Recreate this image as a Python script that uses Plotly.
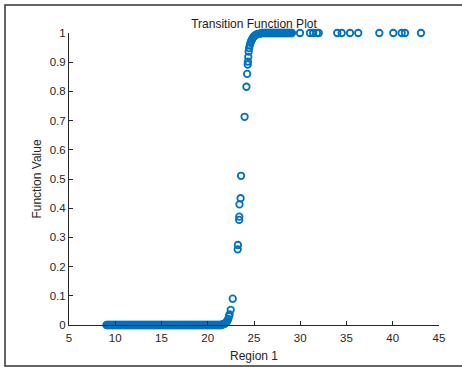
import plotly.graph_objects as go

# Region 1 values (x) and transition function values (y)
region1 = [
    9.05, 9.16, 9.27, 9.38, 9.49, 9.60, 9.71, 9.82, 9.93, 10.04, 10.15, 10.26, 10.37,
    10.48, 10.59, 10.70, 10.81, 10.92, 11.03, 11.14, 11.25, 11.36, 11.47, 11.58, 11.69,
    11.80, 11.91, 12.02, 12.13, 12.24, 12.35, 12.46, 12.57, 12.68, 12.79, 12.90, 13.01,
    13.12, 13.23, 13.34, 13.45, 13.56, 13.67, 13.78, 13.89, 14.00, 14.11, 14.22, 14.33,
    14.44, 14.55, 14.66, 14.77, 14.88, 14.99, 15.10, 15.21, 15.32, 15.43, 15.54, 15.65,
    15.76, 15.87, 15.98, 16.09, 16.20, 16.31, 16.42, 16.53, 16.64, 16.75, 16.86, 16.97,
    17.08, 17.19, 17.30, 17.41, 17.52, 17.63, 17.74, 17.85, 17.96, 18.07, 18.18, 18.29,
    18.40, 18.51, 18.62, 18.73, 18.84, 18.95, 19.06, 19.17, 19.28, 19.39, 19.50, 19.61,
    19.72, 19.83, 19.94, 20.05, 20.16, 20.27, 20.38, 20.49, 20.60, 20.71, 20.82, 20.93,
    21.04, 21.15, 21.26, 21.36, 21.45,
    21.55, 21.62, 21.70, 21.78, 21.85, 21.92, 22.00, 22.07, 22.14, 22.22, 22.30, 22.36,
    22.48, 22.70, 23.24, 23.26, 23.40, 23.41, 23.43, 23.55, 23.60, 23.98, 24.18, 24.26,
    24.32, 24.34, 24.38, 24.42, 24.47, 24.55, 24.62, 24.70, 24.78, 24.87, 24.96, 25.06,
    25.16, 25.27, 25.38, 25.50, 25.62, 25.74,
    25.86, 25.97, 26.09, 26.21, 26.32, 26.44, 26.55, 26.67, 26.79, 26.90, 27.02, 27.13,
    27.25, 27.37, 27.48, 27.60, 27.71, 27.83, 27.95, 28.06, 28.18, 28.29, 28.41, 28.53,
    28.64, 28.76, 28.87, 28.99, 29.10,
    29.97, 31.05, 31.40, 31.80, 32.00, 34.00, 34.48, 35.38, 36.27, 38.55, 40.06, 40.96,
    41.32, 43.05,
]

function_value = [
    0.000, 0.000, 0.000, 0.000, 0.000, 0.000, 0.000, 0.000, 0.000, 0.000, 0.000, 0.000, 0.000,
    0.000, 0.000, 0.000, 0.000, 0.000, 0.000, 0.000, 0.000, 0.000, 0.000, 0.000, 0.000,
    0.000, 0.000, 0.000, 0.000, 0.000, 0.000, 0.000, 0.000, 0.000, 0.000, 0.000, 0.000,
    0.000, 0.000, 0.000, 0.000, 0.000, 0.000, 0.000, 0.000, 0.000, 0.000, 0.000, 0.000,
    0.000, 0.000, 0.000, 0.000, 0.000, 0.000, 0.000, 0.000, 0.000, 0.000, 0.000, 0.000,
    0.000, 0.000, 0.000, 0.000, 0.000, 0.000, 0.000, 0.000, 0.000, 0.000, 0.000, 0.000,
    0.000, 0.000, 0.000, 0.000, 0.000, 0.000, 0.000, 0.000, 0.000, 0.000, 0.000, 0.000,
    0.000, 0.000, 0.000, 0.000, 0.000, 0.000, 0.000, 0.000, 0.000, 0.000, 0.000, 0.000,
    0.000, 0.000, 0.000, 0.000, 0.000, 0.000, 0.000, 0.000, 0.000, 0.000, 0.000, 0.000,
    0.000, 0.000, 0.000, 0.000, 0.000,
    0.001, 0.002, 0.003, 0.004, 0.005, 0.007, 0.009, 0.012, 0.016, 0.021, 0.030, 0.036,
    0.052, 0.090, 0.259, 0.274, 0.360, 0.371, 0.413, 0.434, 0.511, 0.713, 0.816, 0.860,
    0.892, 0.902, 0.918, 0.936, 0.948, 0.958, 0.966, 0.973, 0.978, 0.983, 0.987, 0.990,
    0.993, 0.995, 0.996, 0.997, 0.998, 0.999,
    1.000, 1.000, 1.000, 1.000, 1.000, 1.000, 1.000, 1.000, 1.000, 1.000, 1.000, 1.000,
    1.000, 1.000, 1.000, 1.000, 1.000, 1.000, 1.000, 1.000, 1.000, 1.000, 1.000, 1.000,
    1.000, 1.000, 1.000, 1.000, 1.000,
    1.000, 1.000, 1.000, 1.000, 1.000, 1.000, 1.000, 1.000, 1.000, 1.000, 1.000, 1.000,
    1.000, 1.000,
]

x_ticks = [5, 10, 15, 20, 25, 30, 35, 40, 45]
y_ticks = [0, 0.1, 0.2, 0.3, 0.4, 0.5, 0.6, 0.7, 0.8, 0.9, 1]
y_tick_labels = ["0", "0.1", "0.2", "0.3", "0.4", "0.5", "0.6", "0.7", "0.8", "0.9", "1"]

W, H = 462, 367
L, R, T, B = 69, 23, 33, 42
pw, ph = W - L - R, H - T - B

axis_color = "#262626"
font_family = "Liberation Sans, Arial, Helvetica, sans-serif"

fig = go.Figure()
fig.add_trace(go.Scatter(
    x=region1, y=function_value, mode="markers",
    marker=dict(symbol="circle-open", size=6.5, color="#0072BD",
                line=dict(width=1.8, color="#0072BD")),
    cliponaxis=False, showlegend=False, hoverinfo="x+y",
))

fig.update_layout(
    width=W, height=H,
    margin=dict(l=L, r=R, t=T, b=B, autoexpand=False),
    paper_bgcolor="white", plot_bgcolor="white",
    font=dict(family=font_family, size=11, color=axis_color),
    title=dict(text="Transition Function Plot", x=(L + pw / 2) / W, xanchor="center",
               y=1 - 24 / H, yanchor="middle", yref="container",
               font=dict(size=12, color="#1a1a1a")),
    xaxis=dict(range=[5, 45], tickmode="array", tickvals=x_ticks,
               ticktext=[str(v) for v in x_ticks],
               showgrid=False, zeroline=False, showline=True, linecolor=axis_color,
               linewidth=1, ticks="inside", ticklen=4, tickcolor=axis_color, mirror=False,
               ticklabelstandoff=2,
               tickfont=dict(size=11.5, color=axis_color),
               title=dict(text="Region 1", font=dict(size=12, color=axis_color), standoff=8)),
    yaxis=dict(range=[0, 1], tickmode="array", tickvals=y_ticks, ticktext=y_tick_labels,
               showgrid=False, zeroline=False, showline=True, linecolor=axis_color,
               linewidth=1, ticks="inside", ticklen=4, tickcolor=axis_color, mirror=False,
               tickfont=dict(size=11.5, color=axis_color),
               title=dict(text="Function Value", font=dict(size=12, color=axis_color), standoff=5)),
    shapes=[dict(type="rect", xref="paper", yref="paper",
                 x0=(5 - L) / pw, x1=(470 - L) / pw,
                 y0=(H - B - 366) / ph, y1=(H - B - 5) / ph,
                 line=dict(color="#333333", width=1.5), fillcolor="rgba(0,0,0,0)",
                 layer="below")],
)

fig.write_html(
    "out.html",
    config={"displayModeBar": False},
    post_script="document.body.style.margin='0';document.body.style.overflow='hidden';",
)
